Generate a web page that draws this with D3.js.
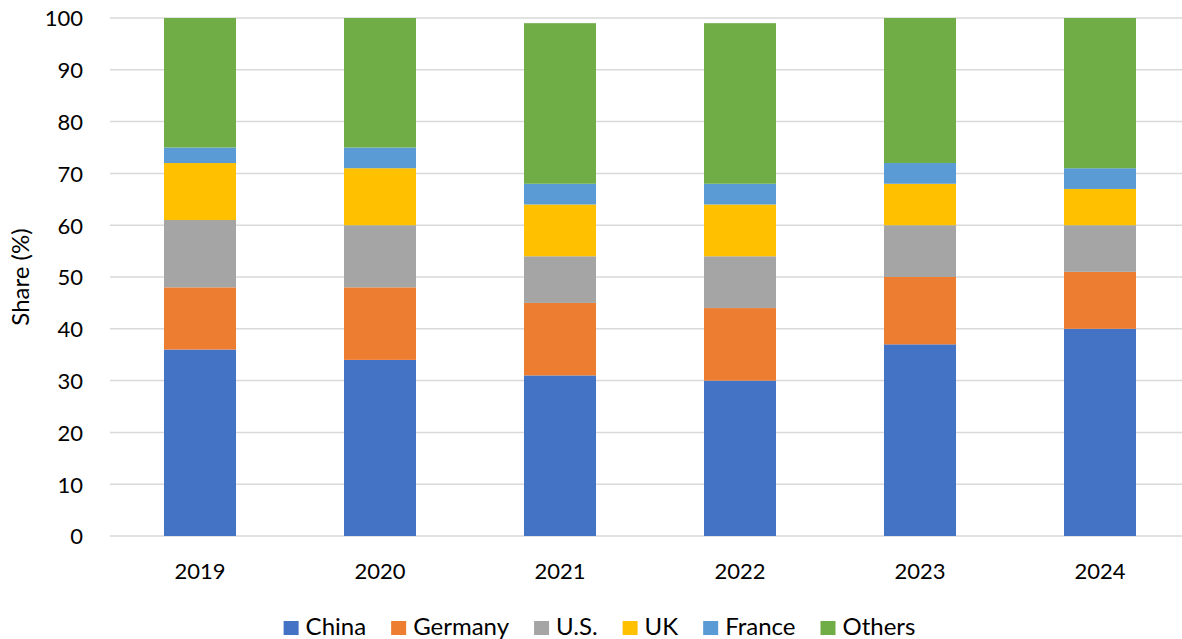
<!DOCTYPE html>
<html>
<head>
<meta charset="utf-8">
<script src="https://cdn.jsdelivr.net/npm/d3@7"></script>
<style>
  html, body { margin: 0; padding: 0; background: #fff; }
  svg { display: block; font-family: Lato, "Open Sans", sans-serif; }
</style>
</head>
<body>
<svg id="chart" width="1182" height="639"></svg>
<script>
// Market share by year, stacked bottom to top
const years = ["2019", "2020", "2021", "2022", "2023", "2024"];
const seriesNames = ["China", "Germany", "U.S.", "UK", "France", "Others"];
const china   = [36, 34, 31, 30, 37, 40];
const germany = [12, 14, 14, 14, 13, 11];
const us      = [13, 12,  9, 10, 10,  9];
const uk      = [11, 11, 10, 10,  8,  7];
const france  = [ 3,  4,  4,  4,  4,  4];
const others  = [25, 25, 31, 31, 28, 29];
const yTicks  = [0, 10, 20, 30, 40, 50, 60, 70, 80, 90, 100];
const colors  = ["#4472c4", "#ed7d31", "#a5a5a5", "#ffc000", "#5b9bd5", "#70ad47"];

const seriesValues = [china, germany, us, uk, france, others];
const rows = years.map((yr, i) => {
  const r = { year: yr };
  seriesNames.forEach((s, k) => { r[s] = seriesValues[k][i]; });
  return r;
});

const svg = d3.select("#chart");
const plot = { left: 110, right: 1190, top: 18, bottom: 536 };

const x = d3.scaleBand()
  .domain(years)
  .range([plot.left, plot.right])
  .paddingInner(0.6)
  .paddingOuter(0.3);

const y = d3.scaleLinear()
  .domain([0, 100])
  .range([plot.bottom, plot.top]);

// Horizontal gridlines
svg.append("g")
  .selectAll("line")
  .data(yTicks)
  .join("line")
  .attr("x1", plot.left)
  .attr("x2", plot.right)
  .attr("y1", d => y(d))
  .attr("y2", d => y(d))
  .attr("stroke", "#d9d9d9")
  .attr("stroke-width", 1.5);

// Y axis labels
const yAxis = svg.append("g")
  .attr("transform", `translate(${plot.left - 27},0)`)
  .call(d3.axisLeft(y).tickValues(yTicks).tickSize(0).tickPadding(0));
yAxis.select(".domain").remove();
yAxis.selectAll("text")
  .attr("font-family", "Lato, sans-serif")
  .attr("font-size", 22)
  .attr("fill", "#000")
  .attr("dy", "0.36em");

// X axis labels
const xAxis = svg.append("g")
  .attr("transform", `translate(0,${plot.bottom})`)
  .call(d3.axisBottom(x).tickSize(0).tickPadding(0));
xAxis.select(".domain").remove();
xAxis.selectAll("text")
  .attr("font-family", "Lato, sans-serif")
  .attr("font-size", 22)
  .attr("fill", "#000")
  .attr("y", 43)
  .attr("dy", 0);

// Y axis title
svg.append("text")
  .attr("transform", `translate(29,${(plot.top + plot.bottom) / 2}) rotate(-90)`)
  .attr("text-anchor", "middle")
  .attr("font-size", 24)
  .attr("fill", "#000")
  .text("Share (%)");

// Stacked bars
const stacked = d3.stack().keys(seriesNames)(rows);
svg.append("g")
  .selectAll("g")
  .data(stacked)
  .join("g")
  .attr("fill", (d, i) => colors[i])
  .selectAll("rect")
  .data(d => d)
  .join("rect")
  .attr("x", d => x(d.data.year))
  .attr("width", x.bandwidth())
  .attr("y", d => y(d[1]))
  .attr("height", d => y(d[0]) - y(d[1]));

// Legend, centred under the plot
const legend = svg.append("g");
const items = legend.selectAll("g")
  .data(seriesNames)
  .join("g");
items.append("rect")
  .attr("width", 15)
  .attr("height", 14)
  .attr("y", -14)
  .attr("fill", (d, i) => colors[i]);
items.append("text")
  .attr("x", 22)
  .attr("font-size", 24)
  .attr("fill", "#000")
  .text(d => d);

let cursor = 0;
items.each(function () {
  const w = 22 + d3.select(this).select("text").node().getComputedTextLength();
  d3.select(this).attr("transform", `translate(${cursor},0)`);
  cursor += w + 25;
});
const legendWidth = cursor - 25;
legend.attr("transform", `translate(${599.5 - legendWidth / 2},635)`);
</script>
</body>
</html>
